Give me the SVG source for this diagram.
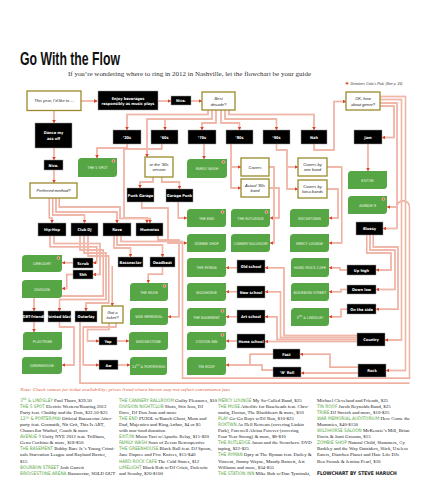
<svg xmlns="http://www.w3.org/2000/svg" width="430" height="500" viewBox="0 0 430 500">
<style>
.k{fill:#000;stroke:#9a9a9a;stroke-width:.5}
.o{fill:#fff;stroke:#9a8a2c;stroke-width:1.3}
.g{fill:#56a646}
.ic{fill:#e2582e;stroke:#f2f2f2;stroke-width:.5}
.kt{fill:#fff;font-family:'DejaVu Sans Condensed','Liberation Sans Narrow','Liberation Sans',sans-serif;font-stretch:condensed;font-weight:bold;font-size:3.9px;text-anchor:middle}
.ot{fill:#222;font-family:'Liberation Sans',sans-serif;font-style:italic;font-size:4.1px;text-anchor:middle}
.gt{fill:#eef5e4;font-family:'DejaVu Sans Condensed','Liberation Sans Narrow','Liberation Sans',sans-serif;font-stretch:condensed;font-size:3.8px;text-anchor:middle}
.c{fill:none;marker-end:url(#a)}
.n{fill:none}
.b{font-family:'Liberation Serif',serif;font-size:4.9px;fill:#222}
.l{font-family:'DejaVu Sans Condensed','Liberation Sans Narrow','Liberation Sans',sans-serif;font-stretch:condensed;fill:#5aa846;font-size:4.7px}
</style>
<defs>
<marker id="a" viewBox="0 0 6 6" refX="5" refY="3" markerUnits="userSpaceOnUse" markerWidth="3.4" markerHeight="3.4" orient="auto"><path d="M0,0 L6,3 L0,6 z" fill="#d8452a"/></marker>
</defs>
<rect width="430" height="500" fill="#fff"/>
<text x="20" y="65" font-family="'Liberation Sans',sans-serif" font-weight="bold" font-size="18.5" textLength="100" lengthAdjust="spacingAndGlyphs" fill="#111">Go With the Flow</text>
<text x="68" y="75.5" font-family="'Liberation Serif',serif" font-size="6.2" textLength="243" lengthAdjust="spacingAndGlyphs" fill="#333">If you’re wondering where to ring in 2012 in Nashville, let the flowchart be your guide</text>
<g id="legend"><circle class="ic" cx="347" cy="83.3" r="1.5"/><text x="350.5" y="84.8" font-family="'Liberation Sans',sans-serif" font-style="italic" font-size="3.6" fill="#333" textLength="52" lengthAdjust="spacingAndGlyphs">Devotees Critic’s Pick. (See p. 25)</text></g>

<g id="connectors">
<g stroke="#e8917b" stroke-width="1.4">
<g id="cp">
<path class="c" d="M81,101 H97"/>
<path class="c" d="M54,110.5 V122.5"/>
<path class="c" d="M158,101 H170.5"/>
<path class="c" d="M191,101 H201.5"/>
<path class="c" d="M54,148 V159.5"/>
<path class="c" d="M54,170 V182.5"/>
<path class="c" d="M208,110 V114.5 H127 V129.5"/>
<path class="c" d="M212,110 V119 H147 V156.5"/>
<path class="c" d="M165,119 V129.5"/>
<path class="c" d="M216,110 V123 H202 V129.5"/>
<path class="c" d="M221,110 V123 H239.5 V129.5"/>
<path class="c" d="M225,110 V119 H276.5 V129.5"/>
<path class="c" d="M229,110 V114.5 H314 V129.5"/>
<path class="c" d="M314,144 V150 H334 V101.5 H345.5"/>
<path class="c" d="M380,106 H394 V137.5 H382.5"/>
<path class="c" d="M380,103 H397 V228.5 H383.5"/>
<path class="c" d="M380,99.5 H401.5 V340 H385.5"/>
<path class="c" d="M380,96.5 H405.5 V370.5 H386.5"/>
<path class="c" d="M368,144 V170.5"/>
<path class="c" d="M127,144 V148 H97 V157.5"/>
<path class="c" d="M161.7,144 V149 H124 V218 H147 V222.5"/>
<path class="c" d="M204,144 V158.5"/>
<path class="c" d="M231,144 V188 H240.5"/>
<path class="c" d="M231,167 H240.5"/>
<path class="c" d="M276.5,144 V150 H287 V189 H297.5"/>
<path class="c" d="M287,167 H297.5"/>
<path class="c" d="M269,167 H274 V243 H270.5"/>
<path class="c" d="M269,188 H279 V218 H270.5"/>
<path class="c" d="M327,167 H341.7 V243 H329.5"/>
<path class="c" d="M327,189 H338 V218 H329.5"/>
<path class="c" d="M153,177 V182 H140 V187.5"/>
<path class="c" d="M161.7,177 V182 H179.5 V188.5"/>
<path class="c" d="M178.3,202 V218 H186.5"/>
<path class="c" d="M141.7,202 V208 H168 V243 H186.5"/>
<path class="c" d="M49.3,198 V218 H52 V222.5"/>
<path class="c" d="M52.7,198 V215 H84.5 V222.5"/>
<path class="c" d="M56,198 V212 H117 V222.5"/>
<path class="c" d="M59.3,198 V207 H120 V218.5 H150 V222.5"/>
<path class="c" d="M158,236 V240 H179 V316.7 H168.5"/>
<path class="c" d="M50,236 V246.7 H96.7 V262.7 H93.5"/>
<path class="c" d="M54,236 V243.5 H100 V274.5 H93.5"/>
<path class="c" d="M73,262.7 H62.5"/>
<path class="c" d="M73,274.5 H66.7 V288.5 H62.5"/>
<path class="c" d="M80,236 V250 H103.3 V296 H34 V310.5"/>
<path class="c" d="M84,236 V253 H106 V299.5 H59.5 V310.5"/>
<path class="c" d="M88,236 V256 H108.7 V303 H86 V310.5"/>
<path class="c" d="M114,236 V248 H130.5 V256.5"/>
<path class="c" d="M117,236 V245 H162.5 V256.5"/>
<path class="c" d="M112.3,266 V305.5"/>
<path class="c" d="M162.5,267 V274.3 H148.3 V282.5"/>
<path class="c" d="M121,236 V241.5 H182.5 V378.3 H409.5 V207 A6.25,6.25 0 0 0 397,207 H387.5"/>
<path class="n" d="M80,322 V383.3 H409.5"/>
<path class="c" d="M34,322 V331.5"/>
<path class="c" d="M59.5,322 V327 H74 V365 H62.5"/>
<path class="c" d="M109,323 V329.5 H87.5 V341 H98.5"/>
<path class="c" d="M116,323 V327 H83.3 V365 H98.5"/>
<path class="c" d="M117,341 H128.5"/>
<path class="c" d="M118,365 H129.5"/>
<path class="c" d="M237,267.7 H226.5"/>
<path class="c" d="M237,291.7 H226.5"/>
<path class="c" d="M237,316.7 H226.5"/>
<path class="c" d="M237,341 H226.5"/>
<path class="c" d="M357,335.5 H284 V267.7 H265.5"/>
<path class="c" d="M357,337.5 H280.5 V291.7 H265.5"/>
<path class="c" d="M357,339.5 H277 V316.7 H265.5"/>
<path class="c" d="M357,341.5 H265.5"/>
<path class="c" d="M366.7,235 V253 H391 V270 H376.5"/>
<path class="c" d="M370,235 V250 H395 V289.5 H376.5"/>
<path class="c" d="M373.3,235 V247 H398 V309.3 H376.5"/>
<path class="c" d="M347,270 H340 V267.7 H329.5"/>
<path class="c" d="M347,289.5 H341 V291.7 H329.5"/>
<path class="c" d="M347,309.3 H341 V316.7 H329.5"/>
<path class="c" d="M358,373 H301.5"/>
<path class="c" d="M358,367.3 H330 V354.3 H300.5"/>
<path class="n" d="M273,354.3 H250 V365"/>
<path class="c" d="M273,370 H262 V365 H226.5"/>
</g>
</g>
<use href="#cp" stroke="#fbe6df" stroke-width="0.45"/>
</g>

<g id="q_year"><rect class="o" x="27" y="91" width="54" height="19.5"/><text class="ot" x="54" y="102">This year, I’d like to ...</text></g>
<g id="enjoy"><rect class="k" x="98" y="91" width="60" height="19"/><text class="kt" x="128" y="99.5">Enjoy beverages</text><text class="kt" x="128" y="105">responsibly as music plays</text></g>
<g id="nice1"><rect class="k" x="171" y="96" width="20" height="9"/><text class="kt" x="181" y="102">Nice.</text></g>
<g id="q_decade"><rect class="o" x="202" y="92" width="33" height="18"/><text class="ot" x="218.5" y="100">Best</text><text class="ot" x="218.5" y="105.5">decade?</text></g>
<g id="q_genre"><rect class="o" x="346" y="92" width="34" height="18"/><text class="ot" x="363" y="100">OK, how</text><text class="ot" x="363" y="105.5">about genre?</text></g>
<g id="d20"><rect class="k" x="113" y="130" width="28" height="14"/><text class="kt" x="127" y="138.5">’20s</text></g>
<g id="d60"><rect class="k" x="151" y="130" width="27" height="14"/><text class="kt" x="164.5" y="138.5">’60s</text></g>
<g id="d70"><rect class="k" x="188" y="130" width="28" height="14"/><text class="kt" x="202" y="138.5">’70s</text></g>
<g id="d80"><rect class="k" x="226" y="130" width="27" height="14"/><text class="kt" x="239.5" y="138.5">’80s</text></g>
<g id="d90"><rect class="k" x="263" y="130" width="27" height="14"/><text class="kt" x="276.5" y="138.5">’90s</text></g>
<g id="nah"><rect class="k" x="301" y="130" width="26" height="14"/><text class="kt" x="314" y="138.5">Nah</text></g>
<g id="jam"><rect class="k" x="354" y="130" width="28" height="14"/><text class="kt" x="368" y="138.5">Jam</text></g>
<g id="dance"><rect class="k" x="35" y="123" width="37" height="25"/><text class="kt" x="53.5" y="134">Dance my</text><text class="kt" x="53.5" y="140">ass off</text></g>
<g id="nice2"><rect class="k" x="44" y="160" width="19" height="10"/><text class="kt" x="53.5" y="166.5">Nice.</text></g>
<g id="q_method"><rect class="o" x="30" y="183" width="47" height="15"/><text class="ot" x="53.5" y="192">Preferred method?</text></g>
<g id="spot5"><path class="g" d="M78,161.5 Q78,158 81.5,158 H117 V173.5 Q117,177 113.5,177 H78 Z"/><circle class="ic" cx="113.5" cy="161" r="1.4"/><text class="gt" x="97.5" y="169">THE 5 SPOT</text></g>
<g id="q_90v"><rect class="o" x="145" y="157" width="28" height="20"/><text class="ot" x="159" y="165.5">or the ’90s</text><text class="ot" x="159" y="171">version</text></g>
<g id="family"><path class="g" d="M187,162.5 Q187,159 190.5,159 H227 V174.5 Q227,178 223.5,178 H187 Z"/><circle class="ic" cx="223.5" cy="162" r="1.4"/><text class="gt" x="207" y="170">FAMILY WASH</text></g>
<g id="covers"><rect class="o" x="241" y="158" width="28" height="18"/><text class="ot" x="255" y="168.5">Covers</text></g>
<g id="actual80"><rect class="o" x="241" y="179" width="28" height="18"/><text class="ot" x="255" y="186.5">Actual ’80s</text><text class="ot" x="255" y="192">band</text></g>
<g id="cov1"><rect class="o" x="298" y="158" width="29" height="18"/><text class="ot" x="312.5" y="165.5">Covers by</text><text class="ot" x="312.5" y="171">one band</text></g>
<g id="covlot"><rect class="o" x="298" y="180" width="29" height="18"/><text class="ot" x="312.5" y="187.5">Covers by</text><text class="ot" x="312.5" y="193">lotsa bands</text></g>
<g id="exitin"><path class="g" d="M348,174.5 Q348,171 351.5,171 H387 V185.5 Q387,189 383.5,189 H348 Z"/><text class="gt" x="367.5" y="181.5">EXIT/IN</text></g>
<g id="ave9"><path class="g" d="M348,199.5 Q348,196 351.5,196 H387 V210.5 Q387,214 383.5,214 H348 Z"/><circle class="ic" cx="383.5" cy="199" r="1.4"/><text class="gt" x="367.5" y="206.5">AVENUE 9</text></g>
<g id="bluesy"><rect class="k" x="356" y="222" width="27" height="13"/><text class="kt" x="369.5" y="230">Bluesy</text></g>
<g id="punkgarage"><rect class="k" x="127" y="188" width="27" height="14"/><text class="kt" x="140.5" y="196.5">Punk Garage</text></g>
<g id="garagepunk"><rect class="k" x="166" y="189" width="27" height="13"/><text class="kt" x="179.5" y="197">Garage Punk</text></g>
<g id="hiphop"><rect class="k" x="38" y="223" width="28" height="13"/><text class="kt" x="52" y="231">Hip-Hop</text></g>
<g id="clubdj"><rect class="k" x="71" y="223" width="27" height="13"/><text class="kt" x="84.5" y="231">Club DJ</text></g>
<g id="rave"><rect class="k" x="103" y="223" width="28" height="13"/><text class="kt" x="117" y="231">Rave</text></g>
<g id="mummies"><rect class="k" x="136" y="223" width="27" height="13"/><text class="kt" x="149.5" y="231">Mummies</text></g>
<g id="theend"><path class="g" d="M187,212.5 Q187,209 190.5,209 H226 V223.5 Q226,227 222.5,227 H187 Z"/><circle class="ic" cx="222.5" cy="212" r="1.4"/><text class="gt" x="206.5" y="219.5">THE END</text></g>
<g id="rutledge"><path class="g" d="M231,212.5 Q231,209 234.5,209 H270 V223.5 Q270,227 266.5,227 H231 Z"/><circle class="ic" cx="266.5" cy="212" r="1.4"/><text class="gt" x="250.5" y="219.5">THE RUTLEDGE</text></g>
<g id="zombie"><path class="g" d="M187,237.5 Q187,234 190.5,234 H226 V248.5 Q226,252 222.5,252 H187 Z"/><text class="gt" x="206.5" y="244.5">ZOMBIE SHOP</text></g>
<g id="cannery"><path class="g" d="M231,237.5 Q231,234 234.5,234 H270 V248.5 Q270,252 266.5,252 H231 Z"/><text class="gt" x="250.5" y="244.5" textLength="34" lengthAdjust="spacingAndGlyphs">CANNERY BALLROOM</text></g>
<g id="rocketown"><path class="g" d="M290,212.5 Q290,209 293.5,209 H329 V223.5 Q329,227 325.5,227 H290 Z"/><text class="gt" x="309.5" y="219.5">ROCKETOWN</text></g>
<g id="mercy"><path class="g" d="M290,237.5 Q290,234 293.5,234 H329 V248.5 Q329,252 325.5,252 H290 Z"/><text class="gt" x="309.5" y="244.5">MERCY LOUNGE</text></g>
<g id="limelight"><path class="g" d="M22,258.5 Q22,255 25.5,255 H62 V268.5 Q62,272 58.5,272 H22 Z"/><circle class="ic" cx="58.5" cy="258" r="1.4"/><text class="gt" x="42" y="265">LIMELIGHT</text></g>
<g id="scrub"><rect class="k" x="73" y="258" width="20" height="10"/><text class="kt" x="83" y="264.5">Scrub</text></g>
<g id="shh"><rect class="k" x="73" y="270" width="20" height="9"/><text class="kt" x="83" y="276">Shh</text></g>
<g id="division"><path class="g" d="M22,283.5 Q22,280 25.5,280 H62 V294.5 Q62,298 58.5,298 H22 Z"/><text class="gt" x="42" y="290.5">DIVISION</text></g>
<g id="bassnectar"><rect class="k" x="118" y="257" width="25" height="10"/><text class="kt" x="130.5" y="263.5">Bassnectar</text></g>
<g id="deadbeat"><rect class="k" x="150" y="257" width="25" height="10"/><text class="kt" x="162.5" y="263.5">Deadbeat</text></g>
<g id="muse"><path class="g" d="M130,286.5 Q130,283 133.5,283 H168 V297.5 Q168,301 164.5,301 H130 Z"/><circle class="ic" cx="164.5" cy="286" r="1.4"/><text class="gt" x="149" y="293.5">THE MUSE</text></g>
<g id="warmem"><path class="g" d="M130,311.5 Q130,308 133.5,308 H168 V321.5 Q168,325 164.5,325 H130 Z"/><text class="gt" x="149" y="318">WAR MEMORIAL</text></g>
<g id="bridgestone"><path class="g" d="M129,335.5 Q129,332 132.5,332 H168 V346.5 Q168,350 164.5,350 H129 Z"/><text class="gt" x="148.5" y="342.5">BRIDGESTONE</text></g>
<g id="porter"><path class="g" d="M130,360.5 Q130,357 133.5,357 H167 V371.5 Q167,375 163.5,375 H130 Z"/><text class="gt" x="148.5" y="367.5" textLength="33" lengthAdjust="spacingAndGlyphs">12<tspan font-size="2.6" dy="-1.2">TH</tspan><tspan dy="1.2"> &amp; PORTER/MAI</tspan></text></g>
<g id="ryman"><path class="g" d="M187,261.5 Q187,258 190.5,258 H226 V273.5 Q226,277 222.5,277 H187 Z"/><text class="gt" x="206.5" y="269">THE RYMAN</text></g>
<g id="wildhorse"><path class="g" d="M187,286.5 Q187,283 190.5,283 H226 V297.5 Q226,301 222.5,301 H187 Z"/><text class="gt" x="206.5" y="293.5">WILDHORSE</text></g>
<g id="basement"><path class="g" d="M187,311.5 Q187,308 190.5,308 H226 V322.5 Q226,326 222.5,326 H187 Z"/><circle class="ic" cx="222.5" cy="311" r="1.4"/><text class="gt" x="206.5" y="318.5">THE BASEMENT</text></g>
<g id="station"><path class="g" d="M187,335.5 Q187,332 190.5,332 H226 V346.5 Q226,350 222.5,350 H187 Z"/><circle class="ic" cx="222.5" cy="335" r="1.4"/><text class="gt" x="206.5" y="342.5">STATION INN</text></g>
<g id="tinroof"><path class="g" d="M187,360.5 Q187,357 190.5,357 H226 V371.5 Q226,375 222.5,375 H187 Z"/><text class="gt" x="206.5" y="367.5">TIN ROOF</text></g>
<g id="oldschool"><rect class="k" x="237" y="260" width="28" height="13"/><text class="kt" x="251" y="268">Old school</text></g>
<g id="newschool"><rect class="k" x="237" y="286" width="28" height="12"/><text class="kt" x="251" y="293.5">New school</text></g>
<g id="artschool"><rect class="k" x="237" y="310" width="28" height="13"/><text class="kt" x="251" y="318">Art school</text></g>
<g id="homeschool"><rect class="k" x="237" y="334" width="28" height="14"/><text class="kt" x="251" y="342.5">Home school</text></g>
<g id="hardrock"><path class="g" d="M291,261.5 Q291,258 294.5,258 H329 V273.5 Q329,277 325.5,277 H291 Z"/><text class="gt" x="310" y="269" textLength="32" lengthAdjust="spacingAndGlyphs">HARD ROCK CAFE</text></g>
<g id="bourbon"><path class="g" d="M291,286.5 Q291,283 294.5,283 H329 V297.5 Q329,301 325.5,301 H291 Z"/><text class="gt" x="310" y="293.5" textLength="33" lengthAdjust="spacingAndGlyphs">BOURBON STREET</text></g>
<g id="lindsley"><path class="g" d="M291,311.5 Q291,308 294.5,308 H329 V322.5 Q329,326 325.5,326 H291 Z"/><text class="gt" x="310" y="318.5">3<tspan font-size="2.6" dy="-1.2">RD</tspan><tspan dy="1.2"> &amp; LINDSLEY</tspan></text></g>
<g id="uphigh"><rect class="k" x="347" y="265" width="29" height="10"/><text class="kt" x="361.5" y="271.5">Up high</text></g>
<g id="downlow"><rect class="k" x="347" y="285" width="29" height="9"/><text class="kt" x="361.5" y="291">Down low</text></g>
<g id="onside"><rect class="k" x="347" y="304" width="29" height="10"/><text class="kt" x="361.5" y="310.5">On the side</text></g>
<g id="country"><rect class="k" x="357" y="333" width="28" height="13"/><text class="kt" x="371" y="341">Country</text></g>
<g id="fast"><rect class="k" x="273" y="349" width="27" height="10"/><text class="kt" x="286.5" y="355.5">Fast</text></g>
<g id="nroll"><rect class="k" x="273" y="367" width="28" height="10"/><text class="kt" x="287" y="373.5">’N’ Roll</text></g>
<g id="rock"><rect class="k" x="358" y="364" width="28" height="13"/><text class="kt" x="372" y="372">Rock</text></g>
<g id="lgbt"><rect class="k" x="23" y="311" width="21" height="11"/><text class="kt" x="33.5" y="318" font-size="3.3">LGBT-friendly</text></g>
<g id="painted"><rect class="k" x="48" y="311" width="23" height="11"/><text class="kt" x="59.5" y="318" font-size="3.3">Painted black</text></g>
<g id="outerlay"><rect class="k" x="75" y="311" width="22" height="11"/><text class="kt" x="86" y="318" font-size="3.3">Outerlay</text></g>
<g id="q_ticket"><rect class="o" x="102" y="306" width="21" height="17"/><text class="ot" x="112.5" y="313.5">Got a</text><text class="ot" x="112.5" y="319">ticket?</text></g>
<g id="yep"><rect class="k" x="99" y="337" width="18" height="8"/><text class="kt" x="108" y="342.5">Yep</text></g>
<g id="playtribe"><path class="g" d="M23,335.5 Q23,332 26.5,332 H62 V346.5 Q62,350 58.5,350 H23 Z"/><text class="gt" x="42.5" y="342.5">PLAY/TRIBE</text></g>
<g id="greenhouse"><path class="g" d="M22,360.5 Q22,357 25.5,357 H62 V370.5 Q62,374 58.5,374 H22 Z"/><text class="gt" x="42" y="367">GREENHOUSE</text></g>
<g id="aw"><rect class="k" x="99" y="360" width="19" height="9.5"/><text class="kt" x="108.5" y="366.5">Aw</text></g>

<text x="20" y="391" font-family="'Liberation Serif',serif" font-style="italic" font-size="5" fill="#e0603c" textLength="210" lengthAdjust="spacingAndGlyphs">Note: Check venues for ticket availability; prices listed where known may not reflect convenience fees</text>

<g id="col1">
<text class="b" x="20" y="401.5"><tspan class="l">3<tspan font-size="3" dy="-1.3">RD</tspan><tspan dy="1.3"> &amp; LINDSLEY</tspan></tspan> Paul Thorn, $39.50</text>
<text class="b" x="20" y="407.6"><tspan class="l">THE 5 SPOT</tspan> Electric Western/Roaring 2012</text>
<text class="b" x="20" y="413.7">Party feat. Chubby and the Dots, $22.50-$25</text>
<text class="b" x="20" y="419.8"><tspan class="l">12<tspan font-size="3" dy="-1.3">TH</tspan><tspan dy="1.3"> &amp; PORTER/MAI</tspan></tspan> Official Bassnectar After-</text>
<text class="b" x="20" y="425.9">party feat. Gramatik, Nit Grit, This Is ART,</text>
<text class="b" x="20" y="432">Chancellor Warhol, Coach &amp; more</text>
<text class="b" x="20" y="438.1"><tspan class="l">AVENUE 9</tspan> Unify NYE 2012 feat. Trillbass,</text>
<text class="b" x="20" y="444.2">Geno Cochino &amp; more, $18-$50</text>
<text class="b" x="20" y="450.3"><tspan class="l">THE BASEMENT</tspan> Bobby Bare Jr.’s Young Crimi-</text>
<text class="b" x="20" y="456.4">nals Starvation League and Rayland Baxter,</text>
<text class="b" x="20" y="462.5">$15</text>
<text class="b" x="20" y="468.6"><tspan class="l">BOURBON STREET</tspan> Josh Garrett</text>
<text class="b" x="20" y="474.7"><tspan class="l">BRIDGESTONE ARENA</tspan> Bassnectar, SOLD OUT</text>
</g>
<g id="col2">
<text class="b" x="119" y="401.5"><tspan class="l">THE CANNERY BALLROOM</tspan> Guilty Pleasures, $10</text>
<text class="b" x="119" y="407.6"><tspan class="l">DIVISION NIGHTCLUB</tspan> Shots, Stix Izza, DJ</text>
<text class="b" x="119" y="413.7">Dave, DJ Don Juan and more</text>
<text class="b" x="119" y="419.8"><tspan class="l">THE END</tspan> PUJOL w/Ranch Ghost, Mom and</text>
<text class="b" x="119" y="425.9">Dad, Majestico and King Arthur, $4 or $5</text>
<text class="b" x="119" y="432">with non-food donation</text>
<text class="b" x="119" y="438.1"><tspan class="l">EXIT/IN</tspan> Moon Taxi w/Apache Relay, $15-$20</text>
<text class="b" x="119" y="444.2"><tspan class="l">FAMILY WASH</tspan> Sons of Zevon Retrospective</text>
<text class="b" x="119" y="450.3"><tspan class="l">THE GREENHOUSE</tspan> Black Ball feat. DJ Spoon,</text>
<text class="b" x="119" y="456.4">Jane Dupree and Five Knives, $15-$40</text>
<text class="b" x="119" y="462.5"><tspan class="l">HARD ROCK CAFE</tspan> The Cold Stares, $12</text>
<text class="b" x="119" y="468.6"><tspan class="l">LIMELIGHT</tspan> Black Rob w/DJ Crisis, Dolewite</text>
<text class="b" x="119" y="474.7">and Scooby, $20-$100</text>
</g>
<g id="col3">
<text class="b" x="218" y="401.5"><tspan class="l">MERCY LOUNGE</tspan> My So-Called Band, $25</text>
<text class="b" x="218" y="407.6"><tspan class="l">THE MUSE</tspan> Afterlife for Baseheads feat. Chro-</text>
<text class="b" x="218" y="413.7">matiq, Dorian, The Blackheart &amp; more, $10</text>
<text class="b" x="218" y="419.8"><tspan class="l">PLAY</tspan> Go-Go Boys w/DJ Ron, $10-$25</text>
<text class="b" x="218" y="425.9"><tspan class="l">ROKTWN</tspan> As Hell Retreats (covering Linkin</text>
<text class="b" x="218" y="432">Park), Farewell Alcina Forever (covering</text>
<text class="b" x="218" y="438.1">Four Year Strong) &amp; more, $8-$10</text>
<text class="b" x="218" y="444.2"><tspan class="l">THE RUTLEDGE</tspan> Jason and the Scorchers: DVD</text>
<text class="b" x="218" y="450.3">taping, $22-$25</text>
<text class="b" x="218" y="456.4"><tspan class="l">THE RYMAN</tspan> Opry at The Ryman feat. Dailey &amp;</text>
<text class="b" x="218" y="462.5">Vincent, Jimmy Wayne, Mandy Barnett, Jett</text>
<text class="b" x="218" y="468.6">Williams and more, $34-$55</text>
<text class="b" x="218" y="474.7"><tspan class="l">THE STATION INN</tspan> Mike Bub w/Dan Tyminski,</text>
</g>
<g id="col4">
<text class="b" x="317" y="401.5">Michael Cleveland and Friends, $25</text>
<text class="b" x="317" y="407.6"><tspan class="l">TIN ROOF</tspan> Jacob Reynolds Band, $25</text>
<text class="b" x="317" y="413.7"><tspan class="l">TRIBE</tspan> DJ Stretch and more, $10-$25</text>
<text class="b" x="317" y="419.8"><tspan class="l">WAR MEMORIAL AUDITORIUM</tspan> Here Come the</text>
<text class="b" x="317" y="425.9">Mummies, $40-$150</text>
<text class="b" x="317" y="432"><tspan class="l">WILDHORSE SALOON</tspan> McKenzie’s Mill, Brian</text>
<text class="b" x="317" y="438.1">Davis &amp; Jami Grooms, $15</text>
<text class="b" x="317" y="444.2"><tspan class="l">ZOMBIE SHOP</tspan> Natural Child, Slammers, Cy</text>
<text class="b" x="317" y="450.3">Barkley and the Way Outsiders, Slick, Useless</text>
<text class="b" x="317" y="456.4">Eaters, Diarrhea Planet and Hate Life DJs</text>
<text class="b" x="317" y="462.5">Ben Swank &amp; Jemina Pearl, $10</text>
<text x="317" y="474.7" font-family="'DejaVu Sans Condensed','Liberation Sans Narrow','Liberation Sans',sans-serif" font-stretch="condensed" font-weight="bold" font-size="5" fill="#222">FLOWCHART BY STEVE HARUCH</text>
</g>
</svg>
